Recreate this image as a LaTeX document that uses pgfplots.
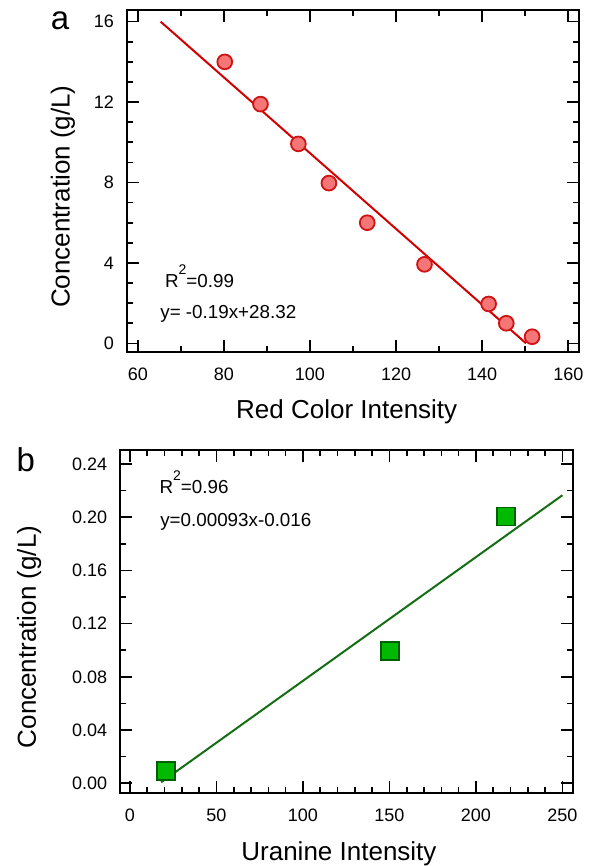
\documentclass[border=0pt]{standalone}
\usepackage{pgfplots}
\pgfplotsset{compat=1.18}
\usepackage{fontspec}
\setmainfont{Liberation Sans}

\definecolor{redfill}{RGB}{244,118,118}
\definecolor{rededge}{RGB}{208,20,20}
\definecolor{redfit}{RGB}{210,0,0}
\definecolor{greenfill}{RGB}{0,185,0}
\definecolor{greenedge}{RGB}{0,95,0}
\definecolor{greenfit}{RGB}{20,110,20}

\tikzset{note/.style={anchor=base west, font=\fontsize{9.4}{11}\selectfont}}

\pgfplotsset{
  panel/.style={
    scale only axis,
    tick align=inside,
    xtick pos=both, ytick pos=both,
    xticklabel pos=lower, yticklabel pos=left,
    axis line style={line width=1pt},
    major tick length=6pt, minor tick length=3pt,
    every tick/.append style={black, line width=0.8pt},
    tick label style={font=\fontsize{9}{10}\selectfont},
    /pgf/number format/assume math mode=true,
    yticklabel style={xshift=-2.8pt},
    xticklabel style={yshift=-4.2pt},
    label style={font=\fontsize{13}{15}\selectfont},
    xlabel style={anchor=base},
    ylabel style={anchor=base},
    clip=false,
  },
}

\begin{document}
\begin{tikzpicture}
\useasboundingbox (0,0) rectangle (295pt,-433pt);

% panel a
\begin{axis}[panel,
  at={(63.3pt,-5pt)}, anchor=north west,
  width=226pt, height=171.2pt,
  xmin=57.4, xmax=162.4, ymin=-0.45, ymax=16.58,
  xtick={60,80,...,160}, minor x tick num=1,
  ytick={0,4,...,16}, minor y tick num=3,
  xlabel={Red Color Intensity},
  ylabel={Concentration (g/L)},
  xlabel style={at={(axis description cs:0.487,0)}, yshift=-33pt},
  ylabel style={at={(axis description cs:-0.126,0.455)}},
]
  \addplot[redfit, line width=1pt] coordinates {(65.3,16.0) (150.2,0.0)};
  \addplot[only marks, mark=*, mark size=3.7pt,
    mark options={fill=redfill, draw=rededge, line width=0.9pt}] coordinates {
    (80.2,14.0) (88.5,11.9) (97.3,9.92) (104.4,7.97) (113.3,6.0)
    (126.6,3.93) (141.5,1.96) (145.6,1.0) (151.6,0.33)
  };
  \node[note] at (axis cs:64.7,2.79) {R\raisebox{6.6pt}{\fontsize{7}{7}\selectfont 2}=0.99};
  \node[note] at (axis cs:63.6,1.24) {y= -0.19x+28.32};
\end{axis}
\node[anchor=base, font=\fontsize{16.5}{18}\selectfont] at (30pt,-15pt) {a};

% panel b
\begin{axis}[panel,
  at={(59.9pt,-225pt)}, anchor=north west,
  width=226.4pt, height=171.5pt,
  xmin=-5.84, xmax=255.9, ymin=-0.0073, ymax=0.2505,
  xtick={0,50,...,250}, minor x tick num=4,
  ytick={0,0.04,...,0.24}, minor y tick num=1,
  scaled y ticks=false,
  yticklabel style={/pgf/number format/.cd, fixed, fixed zerofill, precision=2},
  xlabel={Uranine Intensity},
  ylabel={Concentration (g/L)},
  xlabel style={at={(axis description cs:0.484,0)}, yshift=-33.5pt},
  ylabel style={at={(axis description cs:-0.1855,0.455)}},
]
  \addplot[greenfit, line width=1pt] coordinates {(18.1,0.0008) (250,0.2165)};
  \addplot[only marks, mark=square*, mark size=4.5pt,
    mark options={fill=greenfill, draw=greenedge, line width=0.9pt}] coordinates {
    (20.9,0.0095) (150.2,0.0997) (217.3,0.2005)
  };
  \node[note] at (axis cs:13.1,0.2175) {R\raisebox{6.6pt}{\fontsize{7}{7}\selectfont 2}=0.96};
  \node[note] at (axis cs:13.5,0.1929) {y=0.00093x-0.016};
\end{axis}
\node[anchor=base, font=\fontsize{16.5}{18}\selectfont] at (12.9pt,-235.8pt) {b};
\end{tikzpicture}
\end{document}
